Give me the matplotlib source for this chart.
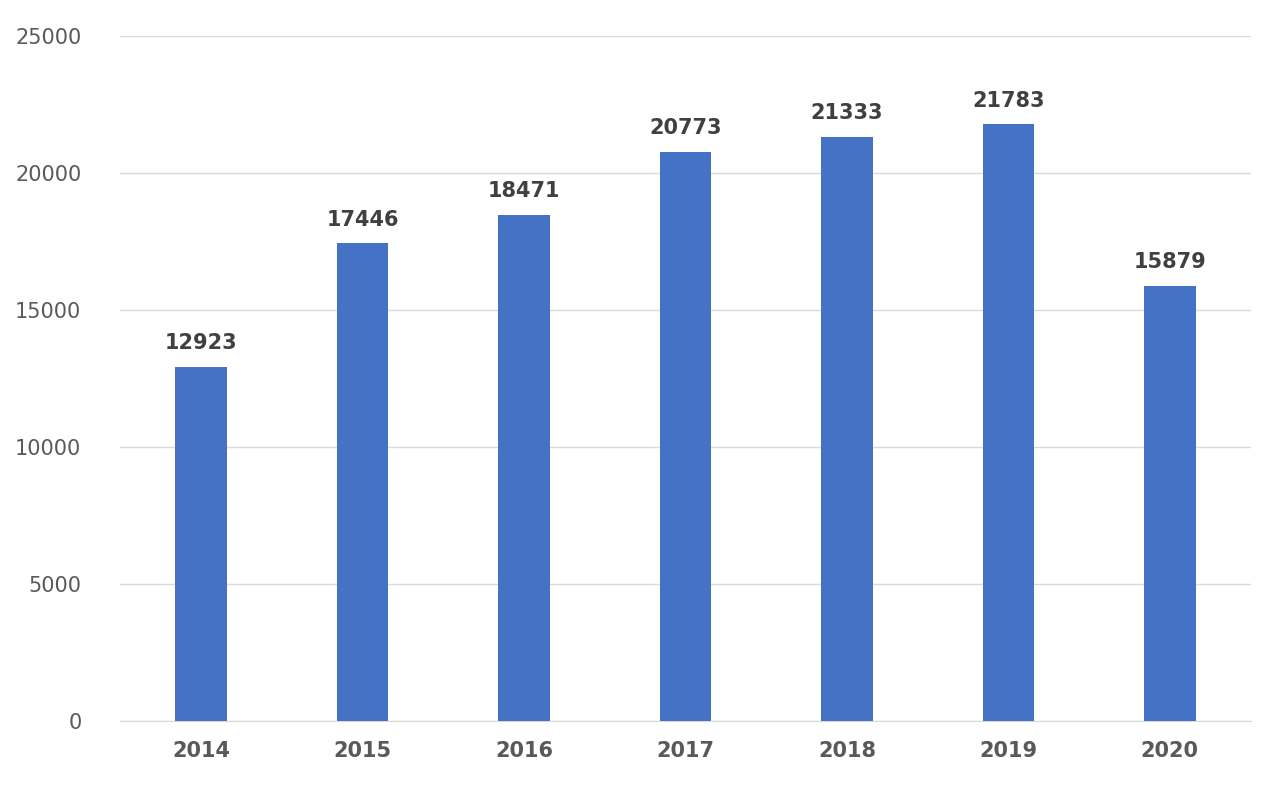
import matplotlib
matplotlib.use("Agg")
import matplotlib.pyplot as plt

years = ["2014", "2015", "2016", "2017", "2018", "2019", "2020"]
values = [12923, 17446, 18471, 20773, 21333, 21783, 15879]

fig = plt.figure(figsize=(12.8, 7.89), dpi=100)
ax = fig.add_axes([0.094, 0.086, 0.883, 0.868])
x = list(range(len(years)))
ax.bar(x, values, width=0.32, color="#4472C4", zorder=3)
for xi, v in zip(x, values):
    ax.text(xi, v + 500, str(v), ha="center", va="bottom", fontsize=15,
            fontweight="bold", color="#404040")
ax.set_xlim(-0.5, len(years) - 0.5)
ax.set_ylim(0, 25000)
ax.set_yticks(range(0, 25001, 5000))
ax.set_xticks(x)
ax.set_xticklabels(years, fontsize=15, fontweight="bold", color="#595959")
ax.tick_params(axis="y", labelsize=15, labelcolor="#595959", length=0, pad=28)
ax.tick_params(axis="x", length=0, pad=14)
ax.grid(axis="y", color="#D9D9D9", linewidth=1, zorder=0)
for s in ["top", "right", "left"]:
    ax.spines[s].set_visible(False)
ax.spines["bottom"].set_color("#D9D9D9")
fig.savefig("out.png", dpi=100)
